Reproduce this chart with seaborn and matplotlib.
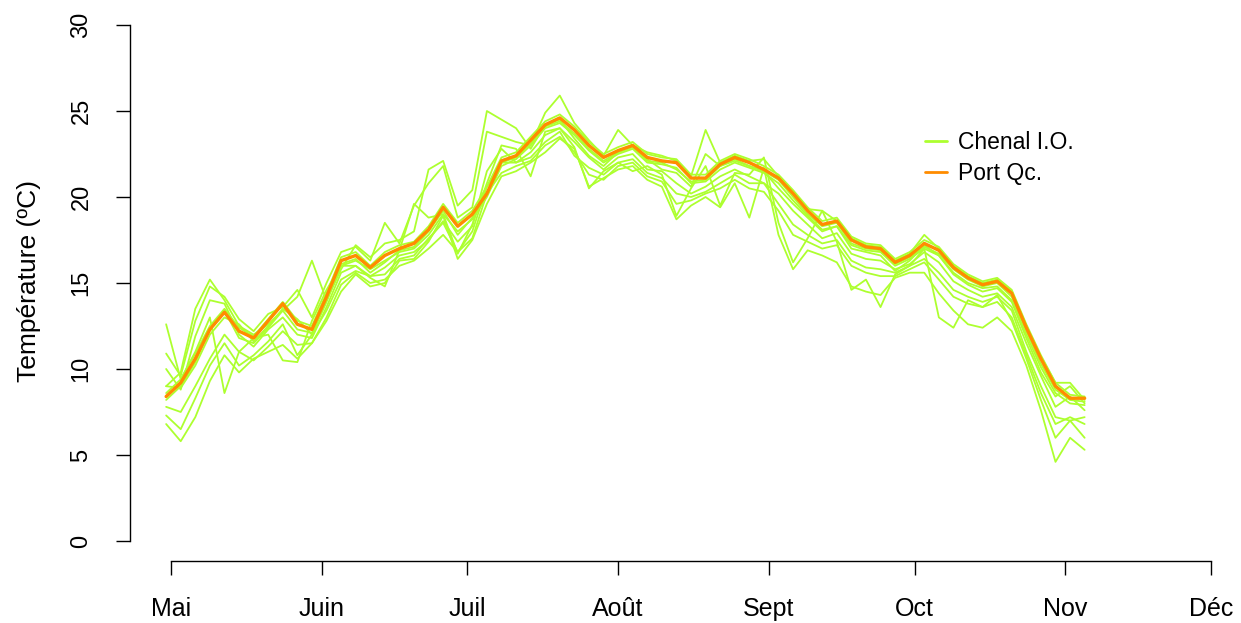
import matplotlib
matplotlib.use("Agg")
import matplotlib.pyplot as plt
import pandas as pd
import seaborn as sns
from matplotlib.lines import Line2D

sns.set_style("white")
plt.rcParams["font.family"] = ["Liberation Sans", "DejaVu Sans"]
plt.rcParams["text.color"] = "black"
plt.rcParams["axes.labelcolor"] = "black"

# Sampling days, counted from 1 May (every third day)
days = list(range(-1, 189, 3))

month_starts = [0, 31, 61, 92, 123, 153, 184, 214]
month_labels = ["Mai", "Juin", "Juil", "Août", "Sept", "Oct", "Nov", "Déc"]
temp_ticks = [0, 5, 10, 15, 20, 25, 30]

# Port de Québec (smoothed reference series), °C
port_qc = [8.4, 9.2, 10.6, 12.3, 13.3, 12.2, 11.8, 12.8,
           13.8, 12.6, 12.3, 14.2, 16.3, 16.6, 15.9, 16.6,
           17.0, 17.3, 18.1, 19.4, 18.3, 19.0, 20.2, 22.1,
           22.4, 23.3, 24.2, 24.6, 23.9, 23.0, 22.3, 22.7,
           23.0, 22.3, 22.1, 22.0, 21.1, 21.1, 21.9, 22.3,
           22.0, 21.6, 21.1, 20.2, 19.2, 18.4, 18.6, 17.5,
           17.1, 17.0, 16.2, 16.6, 17.3, 16.9, 15.9, 15.3,
           14.9, 15.1, 14.4, 12.4, 10.6, 9.0, 8.3, 8.3]

# Chenal de l'Île d'Orléans, one list per year of record, °C
chenal_01 = [8.6, 9.4, 10.9, 12.5, 13.5, 12.4, 11.9, 12.9,
             13.9, 12.8, 12.5, 14.4, 16.5, 16.8, 16.0, 16.8,
             17.2, 17.4, 18.3, 19.6, 18.5, 19.2, 20.6, 22.3,
             22.6, 23.5, 24.4, 24.8, 24.1, 23.2, 22.5, 22.9,
             23.2, 22.5, 22.3, 22.2, 21.3, 21.3, 22.1, 22.5,
             22.2, 21.8, 21.3, 20.4, 19.4, 18.6, 18.8, 17.7,
             17.3, 17.2, 16.4, 16.8, 17.5, 17.1, 16.1, 15.5,
             15.1, 15.3, 14.6, 12.6, 10.8, 9.2, 8.5, 8.4]
chenal_02 = [9.0, 8.9, 10.2, 12.0, 13.0, 12.6, 11.6, 12.5,
             13.5, 12.9, 12.0, 13.9, 16.0, 16.3, 15.8, 16.3,
             16.8, 17.0, 17.8, 19.0, 18.0, 18.7, 20.0, 21.8,
             22.2, 23.0, 24.0, 24.3, 23.6, 22.7, 22.0, 22.5,
             22.8, 22.0, 21.9, 21.7, 20.8, 20.9, 21.6, 22.0,
             21.7, 21.4, 20.8, 19.8, 18.9, 18.1, 18.3, 17.2,
             16.9, 16.8, 16.0, 16.4, 17.0, 16.6, 15.6, 15.0,
             14.7, 14.8, 14.0, 12.0, 10.1, 8.6, 8.0, 7.9]
chenal_03 = [10.9, 9.6, 12.8, 14.8, 14.2, 12.9, 12.2, 13.2,
             13.6, 14.6, 13.0, 15.0, 16.8, 17.1, 16.3, 18.5,
             17.3, 19.5, 20.8, 21.8, 18.8, 19.4, 23.8, 23.5,
             23.2, 23.0, 24.9, 25.9, 24.3, 23.3, 22.4, 23.9,
             23.0, 22.6, 22.4, 22.1, 21.2, 23.9, 22.0, 22.4,
             22.1, 22.2, 21.2, 20.3, 19.3, 19.2, 18.6, 17.6,
             17.2, 17.1, 16.3, 16.7, 17.8, 17.0, 16.0, 15.4,
             15.0, 15.2, 14.5, 12.5, 10.7, 9.2, 9.2, 8.2]
chenal_04 = [10.0, 8.8, 11.9, 14.0, 13.8, 12.0, 11.3, 12.3,
             13.0, 12.0, 11.8, 13.6, 15.6, 16.0, 15.4, 15.9,
             16.6, 16.8, 17.5, 18.6, 17.4, 18.3, 21.5, 22.8,
             22.0, 22.6, 23.6, 24.0, 23.2, 22.3, 21.6, 22.3,
             22.5, 21.6, 21.5, 20.8, 20.2, 20.6, 21.2, 21.6,
             21.2, 20.8, 20.2, 19.2, 18.4, 17.6, 17.9, 16.7,
             16.4, 16.3, 15.8, 16.1, 16.8, 16.2, 15.1, 14.6,
             14.2, 14.4, 13.6, 11.5, 9.6, 7.8, 8.4, 7.6]
chenal_05 = [9.0, 9.8, 13.5, 15.2, 14.0, 12.5, 12.0, 12.6,
             13.4, 14.2, 16.3, 14.0, 15.8, 17.2, 16.5, 17.3,
             17.5, 18.0, 21.6, 22.1, 19.5, 20.4, 25.0, 24.5,
             24.0, 22.8, 24.2, 24.5, 23.4, 22.4, 21.8, 22.6,
             22.9, 22.2, 21.6, 21.4, 20.6, 22.5, 21.8, 22.1,
             21.8, 21.5, 20.5, 19.6, 18.8, 18.0, 18.3, 17.0,
             16.8, 16.6, 15.7, 16.3, 17.2, 16.6, 15.5, 14.9,
             14.5, 14.7, 13.9, 11.8, 9.8, 8.4, 9.0, 8.0]
chenal_06 = [7.8, 7.5, 9.0, 10.6, 12.0, 11.0, 10.5, 11.3,
             12.2, 11.4, 11.5, 13.0, 14.9, 15.6, 15.0, 15.2,
             16.0, 16.3, 17.0, 17.8, 16.8, 17.6, 20.2, 21.4,
             21.8, 22.1, 23.0, 23.5, 22.6, 21.3, 21.0, 21.8,
             22.0, 21.2, 20.9, 19.6, 19.8, 20.2, 20.5, 21.0,
             20.5, 20.3, 19.2, 17.8, 17.4, 17.0, 17.2, 16.0,
             15.6, 15.4, 15.4, 15.8, 16.2, 15.2, 14.2, 13.8,
             13.6, 13.9, 13.0, 10.8, 8.6, 6.8, 7.2, 6.8]
chenal_07 = [6.8, 5.8, 7.2, 9.3, 10.8, 9.8, 10.6, 11.0,
             11.4, 10.6, 11.5, 12.8, 14.5, 15.5, 14.8, 15.0,
             16.3, 16.4, 17.4, 18.9, 16.4, 17.5, 19.6, 21.2,
             21.5, 22.0, 22.6, 23.4, 22.8, 20.6, 21.1, 21.6,
             21.8, 21.0, 20.6, 18.7, 19.5, 20.0, 19.4, 20.8,
             18.8, 21.7, 17.8, 15.8, 16.9, 16.6, 16.2, 14.8,
             14.5, 14.3, 15.3, 15.6, 15.6, 14.4, 13.4, 12.6,
             12.4, 13.0, 12.2, 10.2, 7.6, 4.6, 6.0, 5.3]
chenal_08 = [12.6, 9.4, 11.0, 13.0, 8.6, 11.0, 11.8, 12.0,
             10.5, 10.4, 12.8, 14.6, 16.0, 16.0, 15.3, 14.8,
             16.9, 19.6, 18.8, 19.0, 16.7, 18.4, 20.8, 23.0,
             22.8, 21.2, 23.8, 24.0, 22.9, 20.5, 21.5, 22.0,
             21.5, 21.8, 21.3, 18.9, 20.5, 21.8, 19.5, 21.4,
             21.3, 22.3, 18.5, 16.2, 17.6, 19.2, 17.4, 14.6,
             15.2, 13.6, 15.5, 16.0, 17.0, 13.0, 12.4, 14.0,
             13.6, 14.3, 12.8, 10.6, 8.2, 6.0, 7.0, 6.0]
chenal_09 = [7.3, 6.5, 8.3, 10.2, 11.5, 10.2, 10.8, 11.6,
             12.6, 10.8, 12.0, 13.4, 15.2, 15.7, 15.4, 15.5,
             16.4, 16.6, 17.6, 18.5, 16.8, 18.0, 20.6, 22.0,
             22.0, 22.3, 23.2, 23.8, 22.4, 21.7, 21.3, 22.0,
             22.2, 21.4, 21.1, 20.2, 20.0, 20.3, 20.8, 21.3,
             20.8, 20.8, 19.6, 18.4, 17.8, 17.3, 17.5, 16.3,
             15.9, 15.8, 15.6, 16.0, 16.4, 15.6, 14.6, 14.2,
             13.9, 14.2, 13.4, 11.0, 9.0, 7.2, 7.0, 7.2]
chenal_10 = [8.2, 9.0, 10.4, 12.3, 13.4, 11.8, 11.5, 12.4,
             13.4, 12.3, 12.1, 14.0, 16.1, 16.4, 15.6, 16.2,
             16.9, 17.1, 18.0, 19.2, 17.8, 18.8, 20.2, 22.0,
             22.3, 23.1, 24.1, 24.4, 23.7, 22.8, 22.1, 22.6,
             22.9, 22.1, 22.0, 21.6, 20.9, 21.0, 21.8, 22.2,
             21.8, 21.5, 21.0, 20.0, 19.0, 18.3, 18.5, 17.3,
             17.0, 16.9, 16.1, 16.5, 17.1, 16.7, 15.8, 15.2,
             14.8, 15.0, 14.2, 12.2, 10.3, 8.8, 8.2, 8.1]

chenal_series = [chenal_01, chenal_02, chenal_03, chenal_04, chenal_05,
                 chenal_06, chenal_07, chenal_08, chenal_09, chenal_10]

GREEN = "#ADFF2F"
ORANGE = "#FF8C00"

chenal = pd.concat(
    [pd.DataFrame({"jour": days, "temp": s, "annee": i})
     for i, s in enumerate(chenal_series)],
    ignore_index=True,
)
port = pd.DataFrame({"jour": days, "temp": port_qc})

# Figure laid out in pixels: 1241 x 623
W, H = 1241, 623
fig = plt.figure(figsize=(W / 100, H / 100), dpi=100)
ax_left, ax_right, ax_top, ax_bottom = 130, 1230, 15, 561
ax = fig.add_axes([ax_left / W, 1 - ax_bottom / H,
                   (ax_right - ax_left) / W, (ax_bottom - ax_top) / H])

sns.lineplot(data=chenal, x="jour", y="temp", units="annee", estimator=None,
             color=GREEN, lw=1.3, ax=ax, legend=False)
sns.lineplot(data=port, x="jour", y="temp", color=ORANGE, lw=2.4, ax=ax,
             legend=False)

# Axis scaling: 1 May at x=171 px, 1 Dec at x=1211 px; 30 °C at y=25 px, 0 at y=541 px
px_day = (1211 - 171) / 214
ax.set_xlim(-(171 - ax_left) / px_day, 214 + (ax_right - 1211) / px_day)
px_deg = (541 - 25) / 30
ax.set_ylim(-(ax_bottom - 541) / px_deg, 30 + (25 - ax_top) / px_deg)

ax.set_xticks(month_starts)
ax.set_xticklabels(month_labels)
ax.set_yticks(temp_ticks)
ax.set_yticklabels([str(t) for t in temp_ticks], rotation=90, va="center")

for side in ("top", "right"):
    ax.spines[side].set_visible(False)
ax.spines["left"].set_bounds(0, 30)
ax.spines["bottom"].set_bounds(0, 214)
for side in ("left", "bottom"):
    ax.spines[side].set_color("black")
    ax.spines[side].set_linewidth(1.0)

ax.tick_params(axis="both", direction="out", length=10, width=1.0,
               color="black", labelcolor="black", bottom=True, left=True)
ax.tick_params(axis="x", labelsize=18, pad=16)
ax.tick_params(axis="y", labelsize=17, pad=17)

ax.set_xlabel("")
ax.set_ylabel("Température (ºC)", fontsize=19, color="black")
ax.yaxis.label.set_va("center")
ax.yaxis.set_label_coords((29 - ax_left) / (ax_right - ax_left),
                          (ax_bottom - 281) / (ax_bottom - ax_top))

handles = [Line2D([], [], color=GREEN, lw=2.0),
           Line2D([], [], color=ORANGE, lw=2.0)]
fig.legend(handles, ["Chenal I.O.", "Port Qc."], loc="upper left",
           bbox_to_anchor=(925 / W, 1 - 131 / H), frameon=False,
           fontsize=16.5, handlelength=0.95, handletextpad=0.5,
           labelspacing=0.33, borderpad=0, borderaxespad=0,
           labelcolor="black")

fig.savefig("out.png", dpi=100)
